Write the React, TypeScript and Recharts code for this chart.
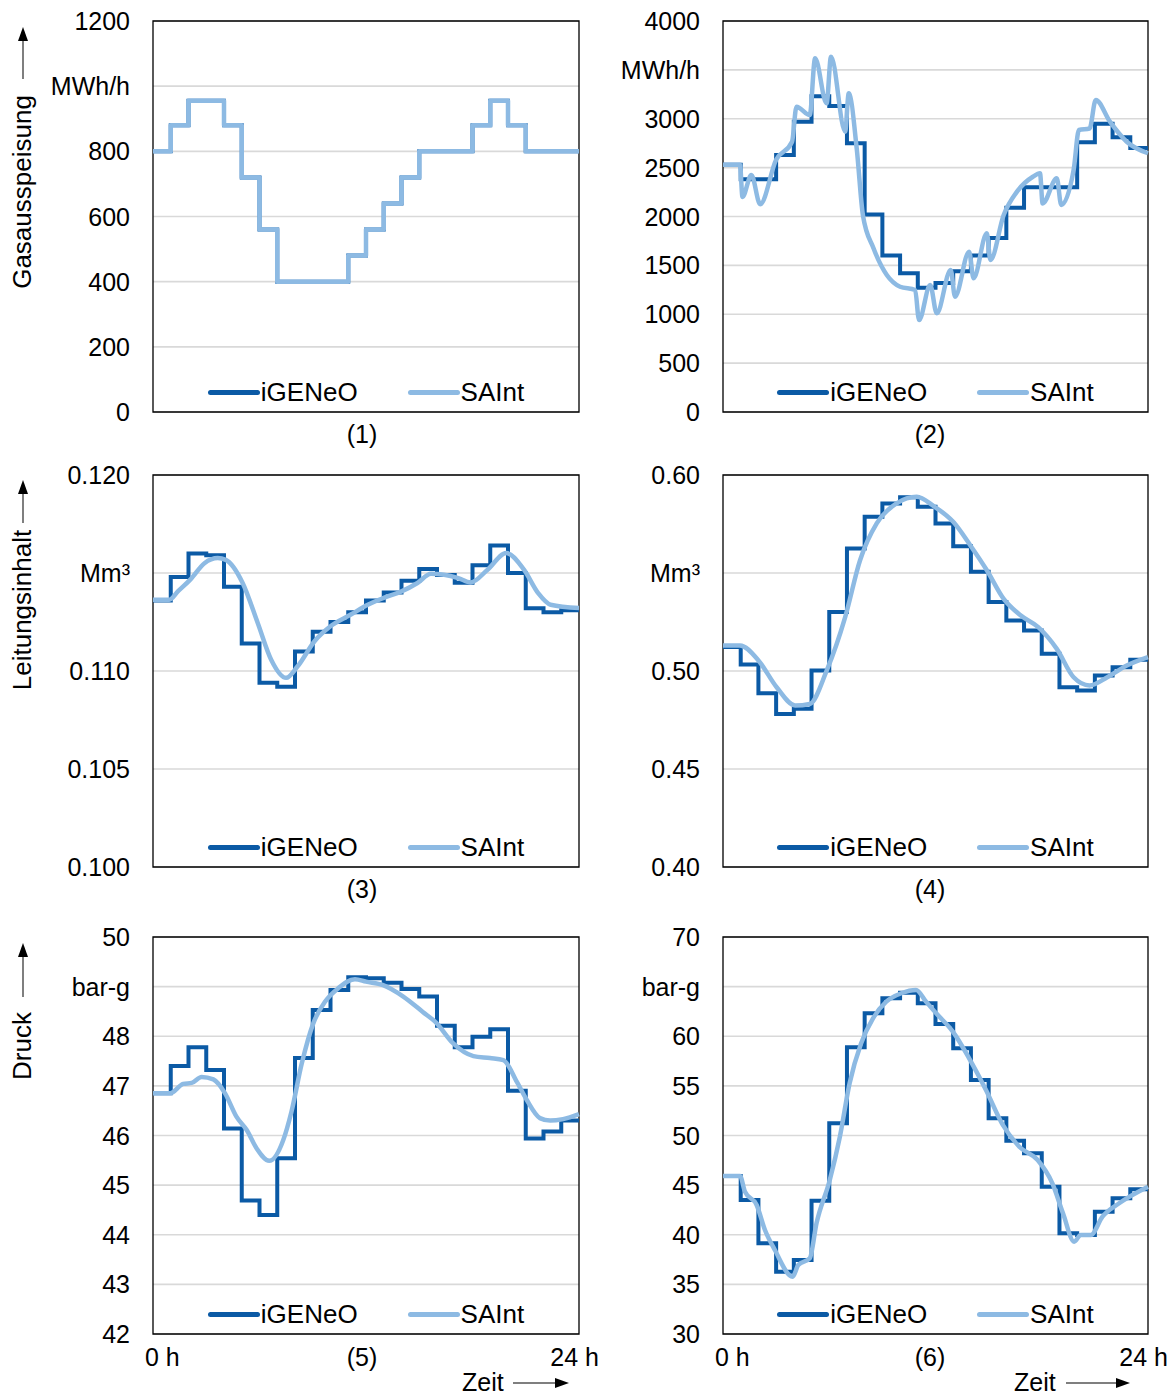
import React from "react";
import { LineChart, Line, XAxis, YAxis, CartesianGrid, ReferenceArea, Legend } from "recharts";

const FONT = '"Liberation Sans", Arial, sans-serif';
const DARK = "#0b5aa5";
const LIGHT = "#8dbae3";

// hourly values (hour 0..23) of the iGENeO step profiles
const igeneo1 = [800, 880, 955, 955, 880, 720, 560, 400, 400, 400, 400, 480, 560, 640, 720, 800, 800, 800, 880, 955, 880, 800, 800, 800];
const saint1 = [800, 880, 955, 955, 880, 720, 560, 400, 400, 400, 400, 480, 560, 640, 720, 800, 800, 800, 880, 955, 880, 800, 800, 800];

const igeneo2 = [2530, 2380, 2380, 2630, 2970, 3230, 3130, 2750, 2020, 1600, 1420, 1270, 1320, 1440, 1600, 1780, 2090, 2300, 2300, 2300, 2760, 2950, 2810, 2700];
const igeneo3 = [0.1136, 0.1148, 0.116, 0.1159, 0.1143, 0.1114, 0.1094, 0.1092, 0.111, 0.112, 0.1125, 0.113, 0.1136, 0.114, 0.1146, 0.1152, 0.1149, 0.1145, 0.1154, 0.1164, 0.115, 0.1132, 0.113, 0.1131];
const igeneo4 = [0.5122, 0.5033, 0.4887, 0.4781, 0.4807, 0.5003, 0.5301, 0.5625, 0.5787, 0.5855, 0.5886, 0.5838, 0.5753, 0.5637, 0.5506, 0.5352, 0.5258, 0.5207, 0.5088, 0.4917, 0.49, 0.4977, 0.5019, 0.5057];
const igeneo5 = [46.85, 47.4, 47.78, 47.32, 46.14, 44.69, 44.4, 45.54, 47.56, 48.53, 48.93, 49.19, 49.17, 49.08, 48.95, 48.8, 48.21, 47.78, 47.99, 48.14, 46.9, 45.94, 46.08, 46.3];
const igeneo6 = [45.92, 43.5, 39.14, 36.28, 37.46, 43.43, 51.23, 58.89, 62.31, 63.82, 64.39, 63.32, 61.23, 58.79, 55.59, 51.73, 49.48, 48.21, 44.84, 40.14, 39.97, 42.32, 43.67, 44.58];

// SAInt curves as [hour, value]
const saint2: [number, number][] = [
  [0, 2530], [0.96, 2530], [1.1, 2200], [1.6, 2425], [2.1, 2125], [3.0, 2580], [3.9, 2765], [4.15, 3124],
  [4.9, 3038], [5.2, 3618], [5.85, 3158], [6.1, 3635], [6.9, 2868], [7.1, 3260], [7.55, 2698], [7.9, 2015],
  [8.5, 1675], [9.25, 1402], [10.0, 1282], [10.85, 1248], [11.07, 941], [11.7, 1299], [12.07, 1010], [12.86, 1453],
  [13.1, 1180], [13.9, 1640], [14.15, 1368], [14.9, 1828], [15.1, 1555], [15.85, 2015], [16.6, 2254], [17.5, 2407],
  [17.9, 2442], [18.05, 2134], [18.85, 2391], [19.1, 2118], [19.8, 2476], [20.1, 2885], [20.7, 2900], [21.05, 3192],
  [21.85, 2970], [22.8, 2765], [24, 2647],
];
const saint3: [number, number][] = [
  [0, 0.11364], [0.92, 0.11364], [1.4, 0.11406], [2.1, 0.11466], [2.9, 0.1155], [3.65, 0.11576], [4.1, 0.11567],
  [5.05, 0.11449], [5.9, 0.11245], [6.65, 0.11059], [7.5, 0.10965], [8.15, 0.11024], [9.1, 0.11152], [10.0, 0.11228],
  [11.15, 0.11288], [12.1, 0.11338], [13.0, 0.11373], [14.0, 0.11406], [14.9, 0.11449], [15.66, 0.11496],
  [16.4, 0.11491], [17.2, 0.11474], [17.9, 0.11452], [18.85, 0.11517], [19.9, 0.11602], [20.9, 0.11517],
  [21.7, 0.11397], [22.4, 0.11338], [24, 0.11321],
];
const saint4: [number, number][] = [
  [0, 0.513], [0.96, 0.513], [2.0, 0.5054], [3.03, 0.4917], [4.07, 0.4824], [4.9, 0.4832], [5.86, 0.5003],
  [6.9, 0.5275], [7.74, 0.5565], [8.68, 0.5753], [9.8, 0.5855], [10.94, 0.5889], [11.9, 0.5841], [13.0, 0.5761],
  [13.96, 0.5642], [14.9, 0.5514], [15.84, 0.5369], [16.8, 0.5284], [17.8, 0.5224], [18.85, 0.5113], [19.8, 0.4968],
  [20.7, 0.4926], [21.7, 0.4968], [22.8, 0.5028], [24, 0.5071],
];
const saint5: [number, number][] = [
  [0, 46.85], [0.96, 46.85], [1.7, 47.04], [2.18, 47.06], [2.74, 47.18], [3.4, 47.13], [4.06, 46.85], [4.7, 46.38],
  [5.28, 46.11], [5.84, 45.74], [6.55, 45.49], [7.34, 45.91], [7.8, 46.48], [8.38, 47.45], [9.03, 48.26], [9.7, 48.7],
  [10.44, 48.97], [11.38, 49.15], [12.0, 49.1], [12.96, 49.03], [14.1, 48.8], [15.2, 48.49], [15.96, 48.27],
  [16.9, 47.86], [18.05, 47.6], [18.98, 47.56], [19.74, 47.52], [20.5, 47.08], [21.05, 46.72], [21.8, 46.35],
  [22.37, 46.3], [23.1, 46.33], [24, 46.43],
];
const saint6: [number, number][] = [
  [0, 45.92], [0.96, 45.92], [1.24, 44.34], [1.9, 43.0], [2.37, 40.48], [2.93, 38.46], [3.93, 35.77], [4.25, 36.95],
  [4.9, 37.63], [5.28, 41.15], [6.03, 45.52], [6.6, 49.88], [7.15, 55.26], [7.8, 59.29], [8.47, 61.81], [9.22, 63.48],
  [10.07, 64.33], [10.9, 64.66], [11.47, 63.48], [12.04, 62.31], [12.98, 60.46], [13.9, 57.78], [14.85, 54.59],
  [15.8, 51.06], [16.73, 48.87], [17.77, 47.53], [18.6, 45.18], [19.2, 42.16], [19.83, 39.3], [20.2, 39.97],
  [20.77, 39.97], [21.43, 41.82], [22.37, 43.17], [24, 44.84],
];

// y-axis ticks
const ticks1 = [0, 200, 400, 600, 800, 1000, 1200];
const ticks2 = [0, 500, 1000, 1500, 2000, 2500, 3000, 3500, 4000];
const ticks3 = [0.1, 0.105, 0.11, 0.115, 0.12];
const ticks4 = [0.4, 0.45, 0.5, 0.55, 0.6];
const ticks5 = [42, 43, 44, 45, 46, 47, 48, 49, 50];
const ticks6 = [30, 35, 40, 45, 50, 55, 60, 65, 70];
const timeTicks = [0, 24];

const steps = (vals: number[]) =>
  vals.map((v, i) => ({ t: i, v })).concat([{ t: vals.length, v: vals[vals.length - 1] }]);
const pairs = (p: [number, number][]) => p.map(([t, v]) => ({ t, v }));

interface PanelProps {
  x: number; y: number; w: number; h: number; axisW: number; rightM: number;
  ticks: number[]; unitTick: number; unit: string; decimals: number;
  igeneo: number[]; saint: { t: number; v: number }[]; saintStep?: boolean;
  showTime?: boolean;
}

function Panel(p: PanelProps) {
  const top = 14;
  const xH = p.showTime ? 40 : 0;
  const bottom = p.showTime ? 0 : 16;
  const min = p.ticks[0];
  const max = p.ticks[p.ticks.length - 1];

  const yTick = (props: any) => {
    const val = props.payload.value;
    const label = Math.abs(val - p.unitTick) < 1e-9 ? p.unit : val.toFixed(p.decimals);
    return (
      <text x={props.x} y={props.y} textAnchor="end" dominantBaseline="central"
        fontFamily={FONT} fontSize={25} fill="#000">{label}</text>
    );
  };
  const xTick = (props: any) => {
    const val = props.payload.value;
    return (
      <text x={val === 0 ? props.x - 8 : props.x + 20} y={props.y} textAnchor={val === 0 ? "start" : "end"}
        dominantBaseline="central" fontFamily={FONT} fontSize={25} fill="#000">{val + " h"}</text>
    );
  };
  const legend = () => (
    <div style={{ display: "flex", justifyContent: "center", alignItems: "center", gap: 50, height: 40,
      fontFamily: FONT, fontSize: 26, color: "#000" }}>
      {[{ n: "iGENeO", c: DARK }, { n: "SAInt", c: LIGHT }].map(it => (
        <div key={it.n} style={{ display: "flex", alignItems: "center" }}>
          <span style={{ width: 52, height: 5, borderRadius: 3, background: it.c, marginRight: 1 }} />
          <span>{it.n}</span>
        </div>
      ))}
    </div>
  );

  return (
    <div style={{ position: "absolute", left: p.x - p.axisW, top: p.y - top }}>
      <LineChart width={p.axisW + p.w + p.rightM} height={top + p.h + xH + bottom}
        margin={{ top, right: p.rightM, left: 0, bottom }}>
        <CartesianGrid vertical={false} stroke="#d9d9d9" strokeWidth={1.6} />
        <XAxis type="number" dataKey="t" domain={[0, 24]} ticks={timeTicks} hide={!p.showTime}
          height={40} axisLine={false} tickLine={false} tickSize={0} tickMargin={23} tick={xTick} />
        <YAxis type="number" domain={[min, max]} ticks={p.ticks} interval={0} width={p.axisW}
          axisLine={false} tickLine={false} tickSize={0} tickMargin={23} tick={yTick} allowDataOverflow />
        <ReferenceArea x1={0} x2={24} y1={min} y2={max} fill="none" fillOpacity={0}
          stroke="#000" strokeWidth={1.3} strokeOpacity={1} />
        <Line data={steps(p.igeneo)} dataKey="v" type="stepAfter" stroke={DARK} strokeWidth={4}
          dot={false} isAnimationActive={false} />
        <Line data={p.saint} dataKey="v" type={p.saintStep ? "stepAfter" : "monotone"} stroke={LIGHT}
          strokeWidth={4.5} dot={false} isAnimationActive={false} strokeLinejoin="round" />
        <Legend layout="horizontal" align="center" verticalAlign="middle" content={legend}
          wrapperStyle={{ position: "absolute", left: p.axisW, width: p.w, top: top + p.h - 40, height: 40 }} />
      </LineChart>
    </div>
  );
}

function Arrow({ x, y1, y2 }: { x: number; y1: number; y2: number }) {
  // vertical arrow pointing up, head at y1
  return (
    <g>
      <line x1={x} x2={x} y1={y1 + 12} y2={y2} stroke="#555" strokeWidth={1.5} />
      <polygon points={`${x},${y1} ${x - 5},${y1 + 14} ${x + 5},${y1 + 14}`} fill="#000" />
    </g>
  );
}

function HArrow({ x1, x2, y }: { x1: number; x2: number; y: number }) {
  return (
    <g>
      <line x1={x1} x2={x2 - 12} y1={y} y2={y} stroke="#555" strokeWidth={1.5} />
      <polygon points={`${x2},${y} ${x2 - 14},${y - 5} ${x2 - 14},${y + 5}`} fill="#000" />
    </g>
  );
}

export default function App() {
  const L = { x: 153, w: 426, axisW: 150, rightM: 20 };
  const R = { x: 723, w: 425, axisW: 130, rightM: 26 };
  const row1 = { y: 21, h: 391 };
  const row2 = { y: 475, h: 392 };
  const row3 = { y: 937, h: 397 };
  const txt = { fontFamily: FONT, fontSize: 25, fill: "#000" } as const;

  return (
    <div style={{ position: "absolute", left: 0, top: 0, width: 1174, height: 1397, background: "#fff" }}>
      <Panel {...L} {...row1} ticks={ticks1} unitTick={1000} unit="MWh/h" decimals={0}
        igeneo={igeneo1} saint={steps(saint1)} saintStep />
      <Panel {...R} {...row1} ticks={ticks2} unitTick={3500} unit="MWh/h" decimals={0}
        igeneo={igeneo2} saint={pairs(saint2)} />
      <Panel {...L} {...row2} ticks={ticks3} unitTick={0.115} unit="Mm³" decimals={3}
        igeneo={igeneo3} saint={pairs(saint3)} />
      <Panel {...R} {...row2} ticks={ticks4} unitTick={0.55} unit="Mm³" decimals={2}
        igeneo={igeneo4} saint={pairs(saint4)} />
      <Panel {...L} {...row3} ticks={ticks5} unitTick={49} unit="bar-g" decimals={0}
        igeneo={igeneo5} saint={pairs(saint5)} showTime />
      <Panel {...R} {...row3} ticks={ticks6} unitTick={65} unit="bar-g" decimals={0}
        igeneo={igeneo6} saint={pairs(saint6)} showTime />

      <svg width={1174} height={1397} style={{ position: "absolute", left: 0, top: 0, pointerEvents: "none" }}>
        <Arrow x={23} y1={27} y2={79} />
        <text {...txt} fontSize={26} textAnchor="middle" transform="translate(31,192) rotate(-90)">Gasausspeisung</text>
        <Arrow x={23} y1={480} y2={523} />
        <text {...txt} fontSize={26} textAnchor="middle" transform="translate(31,610) rotate(-90)">Leitungsinhalt</text>
        <Arrow x={23} y1={943} y2={997} />
        <text {...txt} fontSize={26} textAnchor="middle" transform="translate(31,1046) rotate(-90)">Druck</text>

        <text {...txt} x={362} y={434} textAnchor="middle" dominantBaseline="central">(1)</text>
        <text {...txt} x={930} y={434} textAnchor="middle" dominantBaseline="central">(2)</text>
        <text {...txt} x={362} y={889} textAnchor="middle" dominantBaseline="central">(3)</text>
        <text {...txt} x={930} y={889} textAnchor="middle" dominantBaseline="central">(4)</text>
        <text {...txt} x={362} y={1357} textAnchor="middle" dominantBaseline="central">(5)</text>
        <text {...txt} x={930} y={1357} textAnchor="middle" dominantBaseline="central">(6)</text>

        <text {...txt} x={462} y={1391}>Zeit</text>
        <HArrow x1={513} x2={569} y={1383} />
        <text {...txt} x={1014} y={1391}>Zeit</text>
        <HArrow x1={1066} x2={1130} y={1383} />
      </svg>
    </div>
  );
}
